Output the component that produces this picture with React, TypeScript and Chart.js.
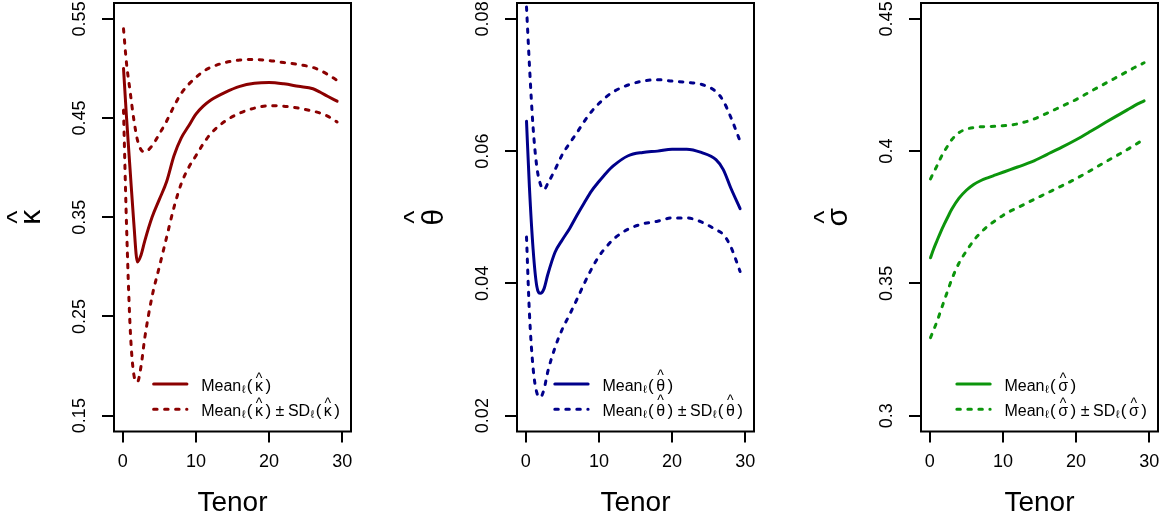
import React, { useEffect, useRef } from "react";
import { Chart, registerables } from "chart.js";

Chart.register(...registerables);

// ---------- data ----------
const tenor = [0.1, 0.5, 1, 1.5, 2, 2.5, 3, 4, 5, 6, 7, 8, 9, 10, 11, 12, 14, 16, 18, 20, 22, 24, 26, 27, 28, 29.3];

const kappaMean = [0.5, 0.452, 0.398, 0.345, 0.305, 0.312, 0.326, 0.35, 0.368, 0.386, 0.412, 0.43, 0.442, 0.454, 0.462, 0.468, 0.476, 0.482, 0.485, 0.4858, 0.4845, 0.482, 0.4795, 0.476, 0.472, 0.467];
const kappaUpper = [0.54, 0.506, 0.477, 0.449, 0.428, 0.418, 0.416, 0.422, 0.434, 0.447, 0.462, 0.475, 0.484, 0.491, 0.497, 0.501, 0.506, 0.5085, 0.509, 0.508, 0.506, 0.504, 0.501, 0.498, 0.494, 0.488];
const kappaLower = [0.458, 0.345, 0.24, 0.192, 0.184, 0.2, 0.228, 0.27, 0.3, 0.33, 0.36, 0.384, 0.4, 0.412, 0.424, 0.434, 0.447, 0.455, 0.46, 0.4625, 0.462, 0.46, 0.457, 0.455, 0.452, 0.446];

const thetaMean = [0.0645, 0.0545, 0.0452, 0.0396, 0.0385, 0.0392, 0.0413, 0.0447, 0.0466, 0.0483, 0.0503, 0.0522, 0.054, 0.0554, 0.0567, 0.0578, 0.0593, 0.0598, 0.06, 0.0603, 0.0603, 0.0598, 0.0587, 0.0572, 0.0545, 0.0513];
const thetaUpper = [0.0818, 0.073, 0.0636, 0.0577, 0.055, 0.0542, 0.0551, 0.0572, 0.0595, 0.0612, 0.0628, 0.0645, 0.066, 0.0672, 0.0682, 0.069, 0.07, 0.0706, 0.0708, 0.0706, 0.0704, 0.0701, 0.069, 0.0676, 0.0652, 0.0615];
const thetaLower = [0.047, 0.0355, 0.0272, 0.0235, 0.0228, 0.024, 0.0266, 0.0303, 0.0331, 0.0353, 0.0376, 0.04, 0.0422, 0.0441, 0.0455, 0.0467, 0.0482, 0.049, 0.0494, 0.0499, 0.0499, 0.0493, 0.0481, 0.0474, 0.0456, 0.0418];

const sigmaMean = [0.3597, 0.3628, 0.3662, 0.3695, 0.3725, 0.3753, 0.378, 0.3822, 0.3852, 0.3874, 0.3889, 0.39, 0.391, 0.392, 0.393, 0.394, 0.396, 0.3987, 0.4014, 0.4043, 0.4075, 0.4108, 0.414, 0.4156, 0.4172, 0.419];
const sigmaUpper = [0.3895, 0.3918, 0.3945, 0.3975, 0.4, 0.4022, 0.4043, 0.407, 0.4083, 0.4089, 0.4092, 0.4093, 0.4094, 0.4096, 0.4098, 0.4103, 0.4119, 0.4143, 0.4169, 0.4195, 0.4226, 0.4256, 0.4286, 0.4301, 0.4316, 0.4334];
const sigmaLower = [0.3295, 0.3322, 0.3357, 0.3397, 0.3437, 0.3476, 0.3515, 0.3577, 0.3622, 0.3662, 0.3693, 0.3718, 0.3738, 0.3757, 0.3773, 0.3786, 0.3814, 0.3841, 0.3868, 0.3896, 0.3927, 0.3959, 0.399, 0.4006, 0.4023, 0.4045];

const xLim = [0, 30];
const xTicks = [0, 10, 20, 30];
const xTickLabels = ["0", "10", "20", "30"];

const kappaLim = [0.15, 0.55];
const kappaTicks = [0.15, 0.25, 0.35, 0.45, 0.55];
const kappaTickLabels = ["0.15", "0.25", "0.35", "0.45", "0.55"];

const thetaLim = [0.02, 0.08];
const thetaTicks = [0.02, 0.04, 0.06, 0.08];
const thetaTickLabels = ["0.02", "0.04", "0.06", "0.08"];

const sigmaLim = [0.3, 0.45];
const sigmaTicks = [0.3, 0.35, 0.4, 0.45];
const sigmaTickLabels = ["0.3", "0.35", "0.4", "0.45"];

const xTitle = "Tenor";

// ---------- styling ----------
const FONT = '"Liberation Sans", Arial, Helvetica, sans-serif';
const H = 527;
const CW = 362;
const AXIS_W = 114;
const PLOT_BOTTOM = 431.5;
const DASH = [3.5, 7.5];

type Seg = { t: string; size: number; dy?: number; hat?: boolean; padL?: number; padR?: number };

function legendRows(sym: string): Seg[][] {
  const group = (): Seg[] => [
    { t: "\u2113", size: 11, dy: 2.5, padL: 0.5, padR: 1 },
    { t: "(", size: 17, padL: 0.5 },
    { t: sym, size: 16, hat: true, padL: 2.5, padR: 2.5 },
    { t: ")", size: 17 },
  ];
  const row1: Seg[] = [{ t: "Mean", size: 16 }, ...group()];
  const row2: Seg[] = [
    { t: "Mean", size: 16 },
    ...group(),
    { t: "\u00b1", size: 16, padL: 4.5, padR: 3.5 },
    { t: "SD", size: 16 },
    ...group(),
  ];
  return [row1, row2];
}

function segWidth(ctx: CanvasRenderingContext2D, s: Seg) {
  ctx.font = `${s.size}px ${FONT}`;
  return (s.padL || 0) + ctx.measureText(s.t).width + (s.padR || 0);
}

function drawRich(ctx: CanvasRenderingContext2D, segs: Seg[], x: number, y: number) {
  let cx = x;
  for (const s of segs) {
    cx += s.padL || 0;
    ctx.font = `${s.size}px ${FONT}`;
    const m = ctx.measureText(s.t);
    ctx.fillText(s.t, cx, y + (s.dy || 0));
    if (s.hat) {
      const top = y - m.actualBoundingBoxAscent;
      ctx.font = `14px ${FONT}`;
      const hm = ctx.measureText("^");
      const hb = top - 3.5 - hm.actualBoundingBoxDescent;
      ctx.fillText("^", cx + m.width / 2 - hm.width / 2, hb);
    }
    cx += m.width + (s.padR || 0);
  }
}

type PanelProps = {
  left: number;
  sym: string;
  color: string;
  mean: number[];
  upper: number[];
  lower: number[];
  yLim: number[];
  yTicks: number[];
  yLabels: string[];
};

function Panel({ left, sym, color, mean, upper, lower, yLim, yTicks, yLabels }: PanelProps) {
  const ref = useRef<HTMLCanvasElement>(null);

  useEffect(() => {
    if (!ref.current) return;
    const ext = (lim: number[]) => {
      const d = (lim[1] - lim[0]) * 0.04;
      return [lim[0] - d, lim[1] + d];
    };
    const xr = ext(xLim);
    const yr = ext(yLim);
    const pts = (arr: number[]) => tenor.map((t, i) => ({ x: t, y: arr[i] }));
    const lineDs = (arr: number[], dashed: boolean) => ({
      data: pts(arr),
      borderColor: color,
      borderWidth: 3,
      borderDash: dashed ? DASH : [],
      borderCapStyle: "round" as const,
      borderJoinStyle: "round" as const,
      pointRadius: 0,
      fill: false,
      cubicInterpolationMode: "monotone" as const,
      clip: 0,
    });

    const decor = {
      id: "rdecor",
      afterDraw(chart: any) {
        const { ctx, chartArea: a } = chart;
        ctx.save();
        // box
        ctx.strokeStyle = "#000";
        ctx.lineWidth = 2;
        ctx.setLineDash([]);
        ctx.strokeRect(a.left, a.top, a.right - a.left, a.bottom - a.top);

        // y-axis title (hat symbol), rotated
        ctx.save();
        ctx.fillStyle = "#000";
        ctx.translate(a.left - 74, (a.top + a.bottom) / 2);
        ctx.rotate(-Math.PI / 2);
        ctx.textAlign = "center";
        ctx.textBaseline = "alphabetic";
        ctx.font = `30px ${FONT}`;
        const sm = ctx.measureText(sym);
        ctx.fillText(sym, 0, 0);
        ctx.font = `28px ${FONT}`;
        const hm = ctx.measureText("^");
        const hb = -sm.actualBoundingBoxAscent - 7 - hm.actualBoundingBoxDescent;
        ctx.fillText("^", 0, hb);
        ctx.restore();

        // legend
        const rows = legendRows(sym);
        const widths = rows.map((r) => r.reduce((acc, s) => acc + segWidth(ctx, s), 0));
        const maxW = Math.max(...widths);
        const tx = a.right - 11 - maxW;
        const ys = [a.bottom - 47.5, a.bottom - 22.2];
        ctx.strokeStyle = color;
        ctx.lineWidth = 3;
        ctx.lineCap = "round";
        ys.forEach((yy, i) => {
          ctx.setLineDash(i === 0 ? [] : DASH);
          ctx.beginPath();
          ctx.moveTo(tx - 47.6, yy);
          ctx.lineTo(tx - 14.3, yy);
          ctx.stroke();
        });
        ctx.setLineDash([]);
        ctx.fillStyle = "#000";
        ctx.textAlign = "left";
        ctx.textBaseline = "alphabetic";
        rows.forEach((r, i) => drawRich(ctx, r, tx, ys[i] + 6.5));
        ctx.restore();
      },
    };

    const chart = new Chart(ref.current, {
      type: "line",
      data: {
        datasets: [lineDs(mean, false), lineDs(upper, true), lineDs(lower, true)],
      },
      options: {
        animation: false,
        responsive: false,
        devicePixelRatio: 1,
        layout: { padding: { left: 0, right: CW - AXIS_W - 237, top: 3, bottom: 0 } },
        plugins: { legend: { display: false }, tooltip: { enabled: false } },
        scales: {
          x: {
            type: "linear",
            min: xr[0],
            max: xr[1],
            afterBuildTicks: (s: any) => {
              s.ticks = xTicks.map((v) => ({ value: v }));
            },
            afterFit: (s: any) => {
              s.height = H - PLOT_BOTTOM;
              s.paddingLeft = 0;
              s.paddingRight = 0;
            },
            grid: {
              drawOnChartArea: false,
              drawTicks: true,
              tickLength: 11,
              tickWidth: 2,
              tickColor: "#000",
              lineWidth: 2,
              color: "#000",
            },
            border: { display: false },
            ticks: {
              autoSkip: false,
              minRotation: 0,
              maxRotation: 0,
              padding: 9,
              color: "#000",
              font: { family: FONT, size: 18 },
              callback: (_v: any, i: number) => xTickLabels[i],
            },
            title: {
              display: true,
              text: xTitle,
              color: "#000",
              font: { family: FONT, size: 28 },
              padding: { top: 0, bottom: 7 },
            },
          },
          y: {
            type: "linear",
            min: yr[0],
            max: yr[1],
            afterBuildTicks: (s: any) => {
              s.ticks = yTicks.map((v) => ({ value: v }));
            },
            afterFit: (s: any) => {
              s.width = AXIS_W;
              s.paddingTop = 0;
              s.paddingBottom = 0;
            },
            grid: {
              drawOnChartArea: false,
              drawTicks: true,
              tickLength: 12,
              tickWidth: 2,
              tickColor: "#000",
              lineWidth: 2,
              color: "#000",
            },
            border: { display: false },
            ticks: {
              autoSkip: false,
              minRotation: 90,
              maxRotation: 90,
              crossAlign: "center",
              padding: 4,
              color: "#000",
              font: { family: FONT, size: 18 },
              callback: (_v: any, i: number) => yLabels[i],
            },
          },
        },
      },
      plugins: [decor],
    } as any);
    return () => chart.destroy();
  }, []);

  return (
    <canvas
      ref={ref}
      width={CW}
      height={H}
      style={{ position: "absolute", left, top: 0, width: CW, height: H }}
    />
  );
}

export default function App() {
  return (
    <div
      style={{
        position: "fixed",
        left: 0,
        top: 0,
        width: 1169,
        height: 527,
        overflow: "hidden",
        background: "#fff",
      }}
    >
      <Panel left={0} sym={"\u03ba"} color="#8B0000" mean={kappaMean} upper={kappaUpper} lower={kappaLower} yLim={kappaLim} yTicks={kappaTicks} yLabels={kappaTickLabels} />
      <Panel left={403} sym={"\u03b8"} color="#00008B" mean={thetaMean} upper={thetaUpper} lower={thetaLower} yLim={thetaLim} yTicks={thetaTicks} yLabels={thetaTickLabels} />
      <Panel left={807} sym={"\u03c3"} color="#0C950C" mean={sigmaMean} upper={sigmaUpper} lower={sigmaLower} yLim={sigmaLim} yTicks={sigmaTicks} yLabels={sigmaTickLabels} />
    </div>
  );
}
